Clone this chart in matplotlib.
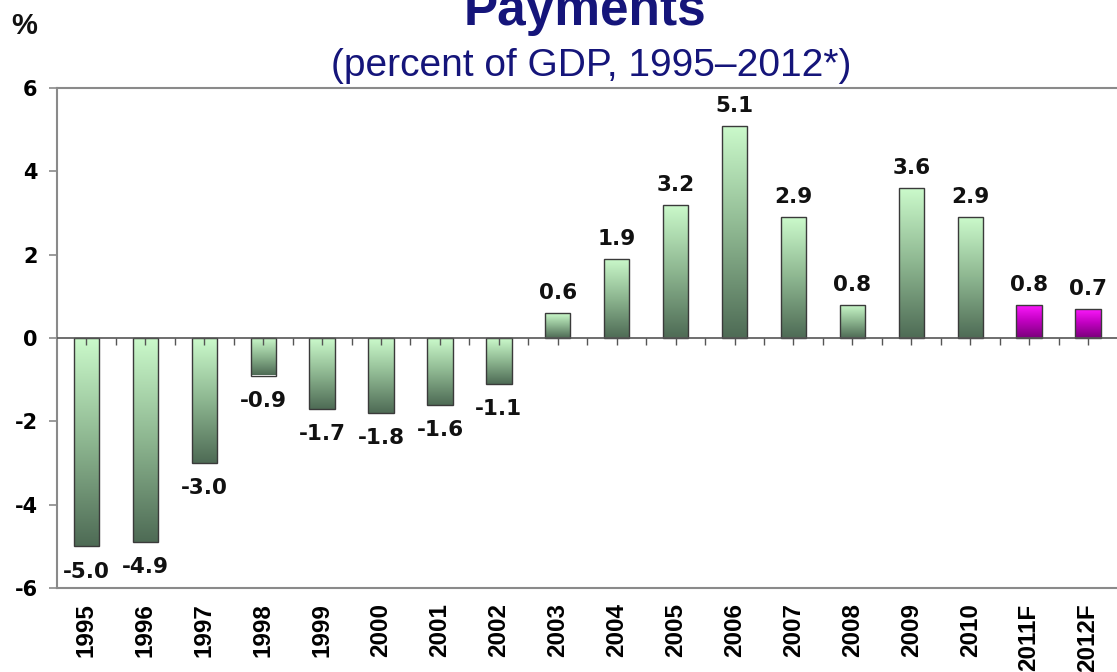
import matplotlib
matplotlib.use("Agg")
import matplotlib.pyplot as plt
import numpy as np
from matplotlib.colors import LinearSegmentedColormap

plt.rcParams["axes.unicode_minus"] = False

# Current account balance, % of GDP
years = ["1995", "1996", "1997", "1998", "1999", "2000", "2001", "2002", "2003",
         "2004", "2005", "2006", "2007", "2008", "2009", "2010", "2011F", "2012F"]
balance = [-5.0, -4.9, -3.0, -0.9, -1.7, -1.8, -1.6, -1.1, 0.6,
           1.9, 3.2, 5.1, 2.9, 0.8, 3.6, 2.9, 0.8, 0.7]
forecast = [False] * 16 + [True, True]

navy = "#15157a"
axis_gray = "#8a8a8a"
green_cmap = LinearSegmentedColormap.from_list("grn", ["#4e6b55", "#8db690", "#cbfacb"])
pink_cmap = LinearSegmentedColormap.from_list("pnk", ["#7a007a", "#c000c0", "#ff1aff"])

fig = plt.figure(figsize=(11.17, 6.72), dpi=100)
ax = fig.add_axes([57 / 1117, 84 / 672, (1117.5 - 57) / 1117, 500 / 672])

x = np.arange(len(years))
bars = ax.bar(x, balance, width=0.43, facecolor="none", edgecolor="#3a3a3a",
              linewidth=1.0, zorder=3)

# vertical gradient inside every bar, light at the top, dark at the bottom
grad = np.linspace(0, 1, 256).reshape(-1, 1)
for rect, fc in zip(bars, forecast):
    x0, w = rect.get_x(), rect.get_width()
    y0, h = rect.get_y(), rect.get_height()
    lo, hi = min(y0, y0 + h), max(y0, y0 + h)
    im = ax.imshow(grad, cmap=pink_cmap if fc else green_cmap, origin="lower",
                   extent=(x0, x0 + w, lo, hi), aspect="auto", zorder=2,
                   interpolation="bilinear")
    im.set_clip_path(rect)

ax.set_xlim(-0.5, len(years) - 0.5)
ax.set_ylim(-6, 6)

# value labels
for xi, v in zip(x, balance):
    if v >= 0:
        ax.annotate(f"{v:.1f}", (xi, v), xytext=(0, 7), textcoords="offset points",
                    ha="center", va="bottom", fontsize=15.5, fontweight="bold",
                    family="DejaVu Sans", color="#111111")
    else:
        ax.annotate(f"{v:.1f}", (xi, v), xytext=(0, -11), textcoords="offset points",
                    ha="center", va="top", fontsize=15.5, fontweight="bold",
                    family="DejaVu Sans", color="#111111")

# zero line with its own tick marks
ax.axhline(0, color="#555555", linewidth=1.2, zorder=4)
ticks_at = np.concatenate([x, x[:-1] + 0.5])
ax.plot(ticks_at, np.zeros_like(ticks_at), linestyle="none", marker=3,
        markersize=5, color="#555555", markeredgewidth=1.0, zorder=4, clip_on=False)

# spines
for side in ["left", "top", "bottom"]:
    ax.spines[side].set_color(axis_gray)
    ax.spines[side].set_linewidth(1.5)
ax.spines["right"].set_visible(False)

ax.set_yticks([-6, -4, -2, 0, 2, 4, 6])
ax.tick_params(axis="y", length=6, width=1.2, color=axis_gray, pad=8)
for lab in ax.get_yticklabels():
    lab.set_fontsize(15)
    lab.set_fontweight("bold")
    lab.set_family("DejaVu Sans")

ax.set_xticks(x)
ax.set_xticklabels(years, rotation=90, fontsize=17.5, fontweight="bold",
                   family="Liberation Sans")
ax.tick_params(axis="x", length=0, pad=11)

fig.text(24 / 1117, 1 - 26 / 672, "%", ha="center", va="center", fontsize=21,
         fontweight="bold", family="Liberation Sans", color="#111111")
fig.text(585 / 1117, 1 - 25 / 672, "Payments", ha="center", va="baseline",
         fontsize=37, fontweight="bold", family="Liberation Sans", color=navy)
fig.text(591 / 1117, 1 - 76 / 672, "(percent of GDP, 1995\u20132012*)", ha="center",
         va="baseline", fontsize=28, family="Liberation Sans", color=navy)

fig.savefig("out.png", dpi=100)
